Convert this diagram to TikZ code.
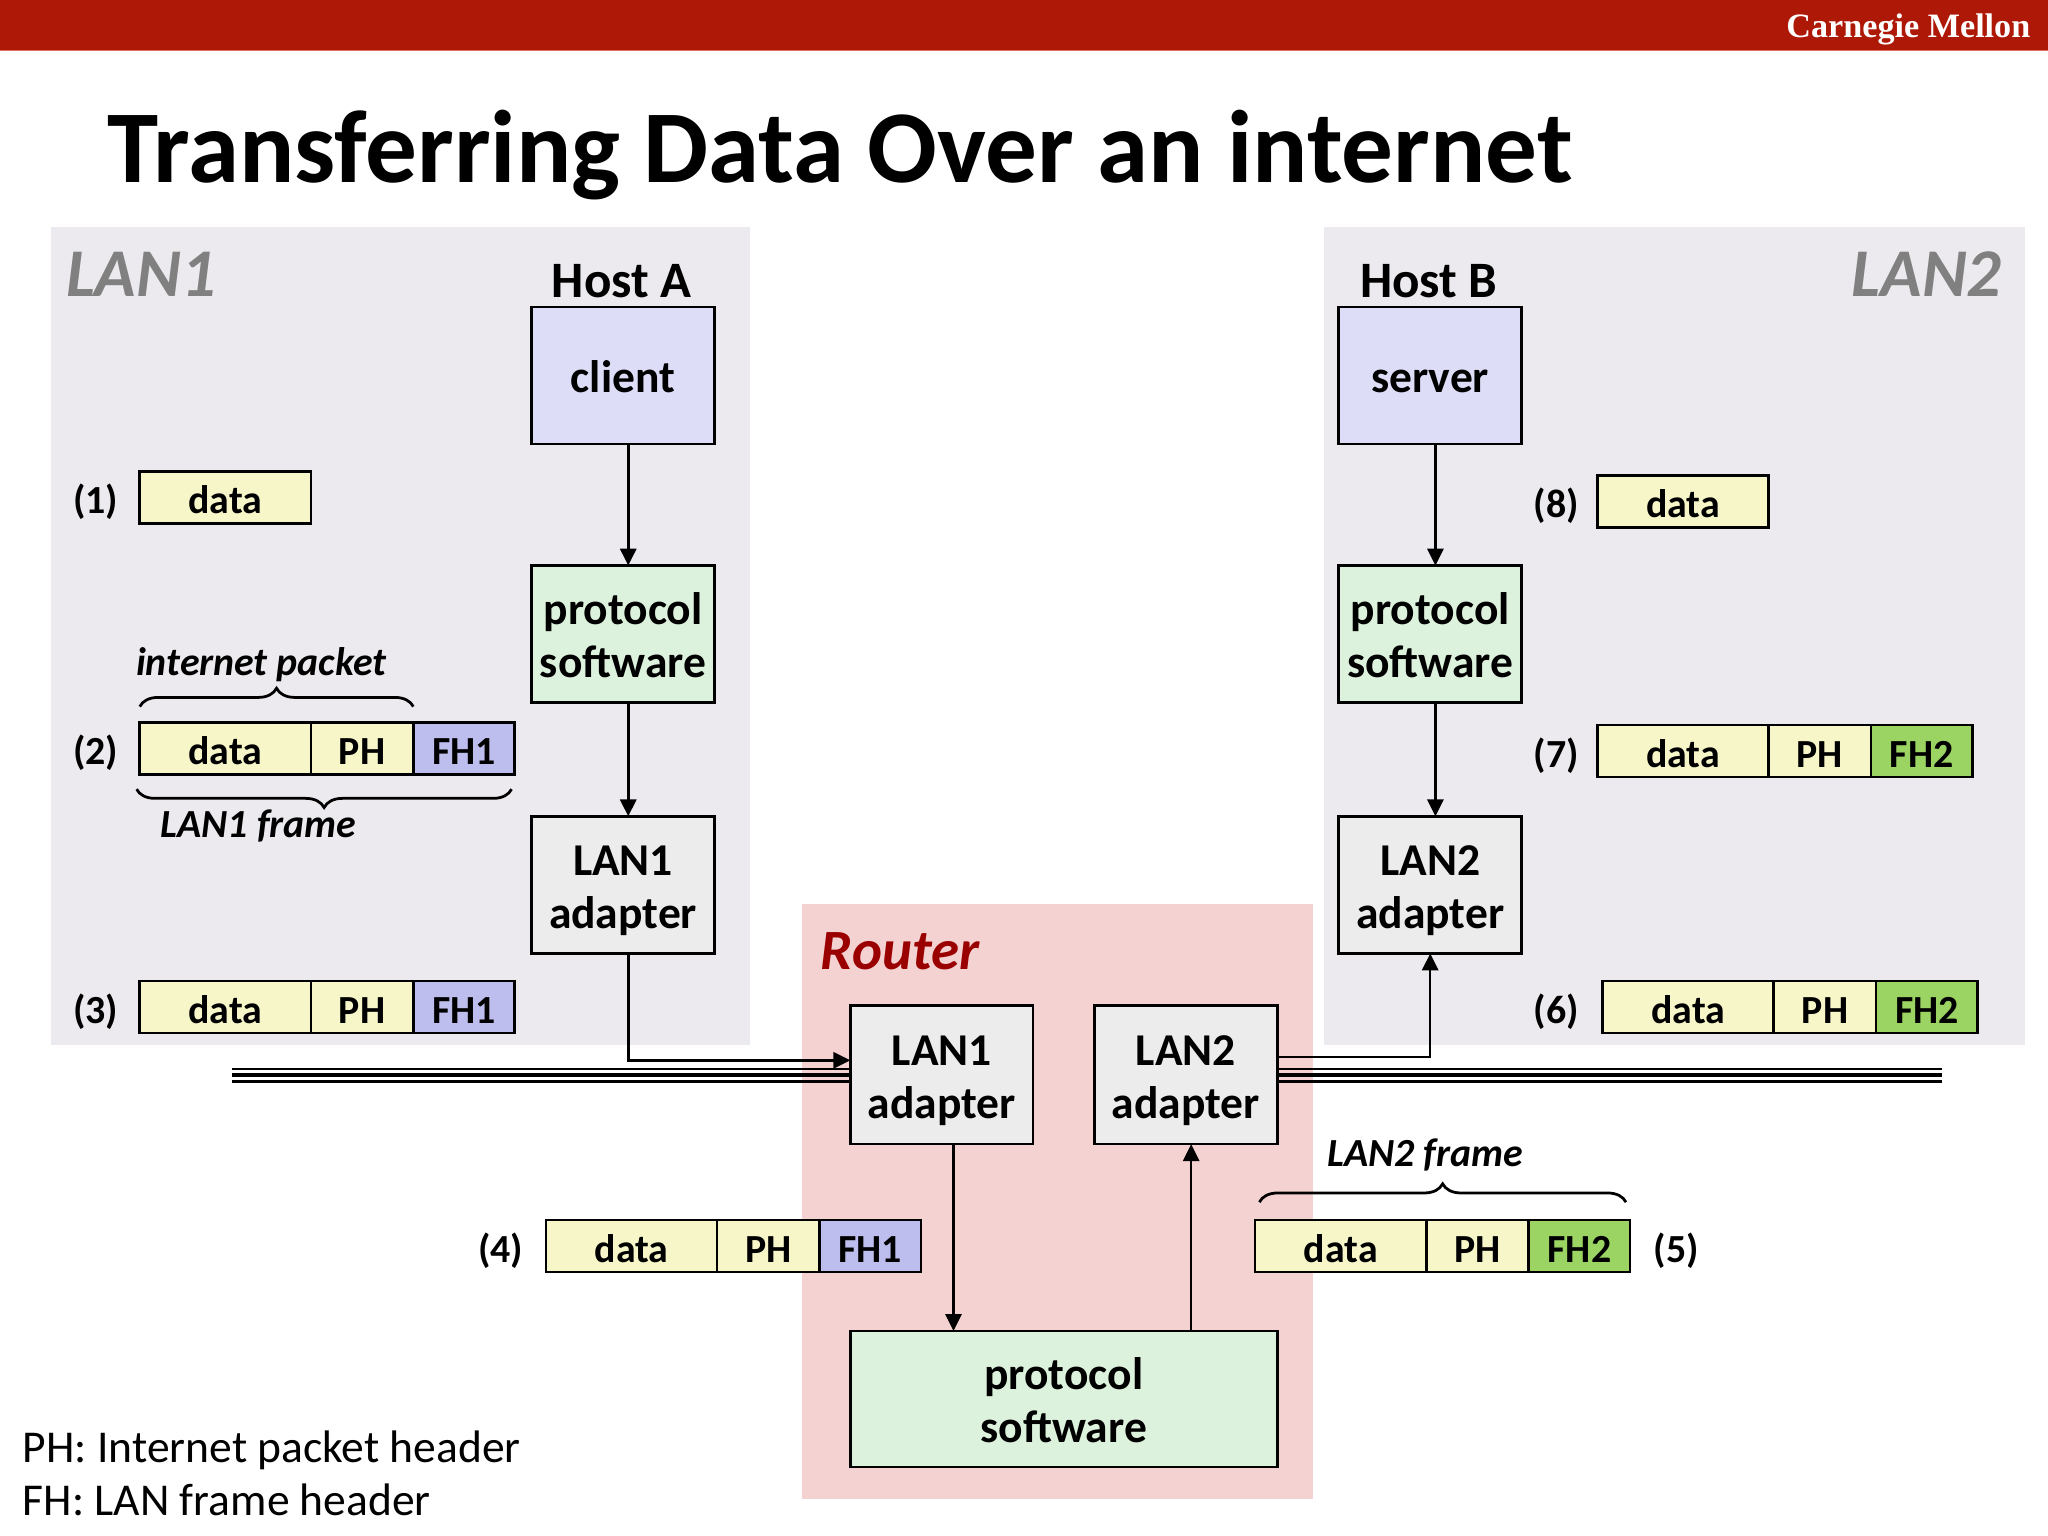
\documentclass[tikz,border=0pt]{standalone}
\usepackage{fontspec}
\setmainfont{Carlito}
\newfontfamily\cmufont{Liberation Serif}
\usetikzlibrary{arrows.meta,decorations.pathreplacing,calc}
\definecolor{barred}{RGB}{174,24,6}
\definecolor{barline}{RGB}{225,110,100}
\definecolor{lanbg}{RGB}{236,234,238}
\definecolor{routerbg}{RGB}{244,210,210}
\definecolor{hostfill}{RGB}{221,221,247}
\definecolor{protofill}{RGB}{221,242,220}
\definecolor{adapterfill}{RGB}{236,236,236}
\definecolor{datafill}{RGB}{247,246,201}
\definecolor{fhonefill}{RGB}{190,190,238}
\definecolor{fhtwofill}{RGB}{155,212,98}
\definecolor{langray}{RGB}{128,128,128}
\definecolor{routerred}{RGB}{155,0,0}
\newcommand\boxtext[1]{\raisebox{-1.8pt}[\height][\depth]{\begin{tabular}{@{}c@{}}#1\end{tabular}}}
\begin{document}
\begin{tikzpicture}[x=0.0125cm,y=-0.0125cm,
  box/.style={draw=black,line width=0.7pt,minimum width=1.75cm,minimum height=1.3125cm,inner sep=0pt,outer sep=0pt,font=\bfseries\fontsize{12.4}{14.3}\selectfont},
  hostbox/.style={box,fill=hostfill},
  protobox/.style={box,fill=protofill},
  adapterbox/.style={box,fill=adapterfill},
  cell/.style={draw=black,line width=0.7pt,minimum height=0.5cm,inner sep=0pt,outer sep=0pt,text height=8.8pt,text depth=0pt,font=\bfseries\fontsize{10.85}{13}\selectfont},
  datacell/.style={cell,fill=datafill,minimum width=1.6375cm},
  phcell/.style={cell,fill=datafill,minimum width=0.98cm},
  fhone/.style={cell,fill=fhonefill,minimum width=0.97cm},
  fhtwo/.style={cell,fill=fhtwofill,minimum width=0.97cm},
  numlbl/.style={inner sep=0pt,font=\bfseries\fontsize{10.85}{13}\selectfont},
  bracelbl/.style={inner sep=0pt,font=\bfseries\itshape\fontsize{10.85}{13}\selectfont},
  hostlbl/.style={inner sep=0pt,font=\bfseries\fontsize{13.9}{16}\selectfont},
  lanlbl/.style={inner sep=0pt,text=langray,font=\bfseries\itshape\fontsize{18.6}{22}\selectfont},
  conn/.style={draw=black,line width=0.7pt,-{Triangle[length=4.6pt,width=4.4pt]}},
  brc/.style={draw=black,line width=0.75pt,decorate,decoration={brace,amplitude=5pt}},
  wirethin/.style={draw=black,line width=0.55pt},
  wirethick/.style={draw=black,line width=1.3pt},
  wiremid/.style={draw=black,line width=0.95pt}
]
\useasboundingbox (0,0) rectangle (1568,1176);
% top bar
\fill[barred] (0,0) rectangle (1568,38.8);
\draw[barline,line width=0.4pt] (0,38.8) -- (1568,38.8);
\node[anchor=base east,inner sep=0pt,text=white,font=\cmufont\bfseries\fontsize{9.3}{11}\selectfont] (cmu) at (1555,28.6) {Carnegie Mellon};
% title
\node[anchor=base west,inner sep=0pt,font=\bfseries\fontsize{28.1}{33}\selectfont] (title) at (82,140) {Transferring Data Over an internet};
% regions
\fill[lanbg] (39,174) rectangle (574,800);
\fill[lanbg] (1014,174) rectangle (1550,800);
\fill[routerbg] (614,692) rectangle (1005,1148);
\node[lanlbl,anchor=base west] (lanonelbl) at (50,227) {LAN1};
\node[lanlbl,anchor=base east] (lantwolbl) at (1533,227) {LAN2};
\node[anchor=base west,inner sep=0pt,text=routerred,font=\bfseries\itshape\fontsize{15.5}{18}\selectfont] (routerlbl) at (628,742) {Router};
% host A
\node[hostlbl,anchor=base] (hostA) at (476,228) {Host A};
\node[hostbox] (client) at (477,287.5) {\boxtext{client}};
\node[protobox] (protoA) at (477,485.5) {\boxtext{protocol\\software}};
\node[adapterbox] (adA) at (477,677.5) {\boxtext{LAN1\\adapter}};
% host B
\node[hostlbl,anchor=base] (hostB) at (1094,228) {Host B};
\node[hostbox] (server) at (1095,287.5) {\boxtext{server}};
\node[protobox] (protoB) at (1095,485.5) {\boxtext{protocol\\software}};
\node[adapterbox] (adB) at (1095,677.5) {\boxtext{LAN2\\adapter}};
% router
\node[adapterbox,minimum height=1.325cm] (rA1) at (721,823) {\boxtext{LAN1\\adapter}};
\node[adapterbox,minimum height=1.325cm] (rA2) at (908,823) {\boxtext{LAN2\\adapter}};
\node[protobox,minimum width=4.0875cm,minimum height=1.3cm] (rP) at (814.5,1071) {\boxtext{protocol\\software}};
% wires
\coordinate (wL) at (178,823);
\coordinate (wR) at (1487,823);
\draw[wirethin] ([yshift=0.056cm]wL) -- ([yshift=0.056cm]rA1.west);
\draw[wirethick] (wL) -- (rA1.west);
\draw[wiremid] ([yshift=-0.0625cm]wL) -- ([yshift=-0.0625cm]rA1.west);
\draw[wirethin] ([yshift=0.056cm]rA2.east) -- ([yshift=0.056cm]wR);
\draw[wirethick] (rA2.east) -- (wR);
\draw[wiremid] ([yshift=-0.0625cm]rA2.east) -- ([yshift=-0.0625cm]wR);
% connectors
\draw[conn] ([xshift=0.05cm]client.south) -- ([xshift=0.05cm]protoA.north);
\draw[conn] ([xshift=0.05cm]protoA.south) -- ([xshift=0.05cm]adA.north);
\draw[conn] ([xshift=0.05cm]adA.south) |- ([yshift=0.14cm]rA1.west);
\draw[conn] ([xshift=0.05cm]server.south) -- ([xshift=0.05cm]protoB.north);
\draw[conn] ([xshift=0.05cm]protoB.south) -- ([xshift=0.05cm]adB.north);
\draw[conn] ([yshift=0.17cm]rA2.east) -| (adB.south);
\draw[conn] ([xshift=0.1125cm]rA1.south) -- ([xshift=0.1125cm]rA1.south |- rP.north);
\draw[conn] ([xshift=0.05cm]rA2.south |- rP.north) -- ([xshift=0.05cm]rA2.south);
% packet (1)
\node[datacell,anchor=west] (p1d) at (107,381) {data};
\node[numlbl,anchor=base east] (n1) at ([xshift=-0.2cm]p1d.base west) {(1)};
% packet (2)
\node[datacell,anchor=west] (p2d) at (107,573) {data};
\node[phcell,anchor=west] (p2p) at (p2d.east) {PH};
\node[fhone,anchor=west] (p2f) at (p2p.east) {FH1};
\node[numlbl,anchor=base east] (n2) at ([xshift=-0.2cm]p2d.base west) {(2)};
\draw[brc] ([yshift=0.15cm]p2d.north west) -- ([yshift=0.15cm]p2p.north east);
\node[bracelbl,anchor=base] (ipkt) at (200,517) {internet packet};
\draw[brc] ([xshift=-0.03cm,yshift=-0.14cm]p2f.south east) -- ([xshift=-0.03cm,yshift=-0.14cm]p2d.south west);
\node[bracelbl,anchor=base] (lanonefr) at (198,641) {LAN1 frame};
% packet (3)
\node[datacell,anchor=west] (p3d) at (107,771) {data};
\node[phcell,anchor=west] (p3p) at (p3d.east) {PH};
\node[fhone,anchor=west] (p3f) at (p3p.east) {FH1};
\node[numlbl,anchor=base east] (n3) at ([xshift=-0.2cm]p3d.base west) {(3)};
% packet (4)
\node[datacell,anchor=west] (p4d) at (418,954) {data};
\node[phcell,anchor=west] (p4p) at (p4d.east) {PH};
\node[fhone,anchor=west] (p4f) at (p4p.east) {FH1};
\node[numlbl,anchor=base east] (n4) at ([xshift=-0.21cm]p4d.base west) {(4)};
% packet (5)
\node[datacell,anchor=west] (p5d) at (961,954) {data};
\node[phcell,anchor=west] (p5p) at (p5d.east) {PH};
\node[fhtwo,anchor=west] (p5f) at (p5p.east) {FH2};
\node[numlbl,anchor=base west] (n5) at ([xshift=0.22cm]p5f.base east) {(5)};
\draw[brc] ([xshift=0.04cm,yshift=0.17cm]p5d.north west) -- ([xshift=-0.04cm,yshift=0.17cm]p5f.north east);
\node[bracelbl,anchor=base] (lantwofr) at (1091,893) {LAN2 frame};
% packet (6)
\node[datacell,anchor=west] (p6d) at (1227,771) {data};
\node[phcell,anchor=west] (p6p) at (p6d.east) {PH};
\node[fhtwo,anchor=west] (p6f) at (p6p.east) {FH2};
\node[numlbl,anchor=base east] (n6) at ([xshift=-0.22cm]p6d.base west) {(6)};
% packet (7)
\node[datacell,anchor=west] (p7d) at (1223,575) {data};
\node[phcell,anchor=west] (p7p) at (p7d.east) {PH};
\node[fhtwo,anchor=west] (p7f) at (p7p.east) {FH2};
\node[numlbl,anchor=base east] (n7) at ([xshift=-0.17cm]p7d.base west) {(7)};
% packet (8)
\node[datacell,anchor=west] (p8d) at (1223,384) {data};
\node[numlbl,anchor=base east] (n8) at ([xshift=-0.17cm]p8d.base west) {(8)};
% legend
\node[anchor=base west,inner sep=0pt,font=\fontsize{12.4}{15}\selectfont] (legPH) at (17,1120) {PH: Internet packet header};
\node[anchor=base west,inner sep=0pt,font=\fontsize{12.4}{15}\selectfont] (legFH) at (17,1160) {FH: LAN frame header};
\end{tikzpicture}
\end{document}
